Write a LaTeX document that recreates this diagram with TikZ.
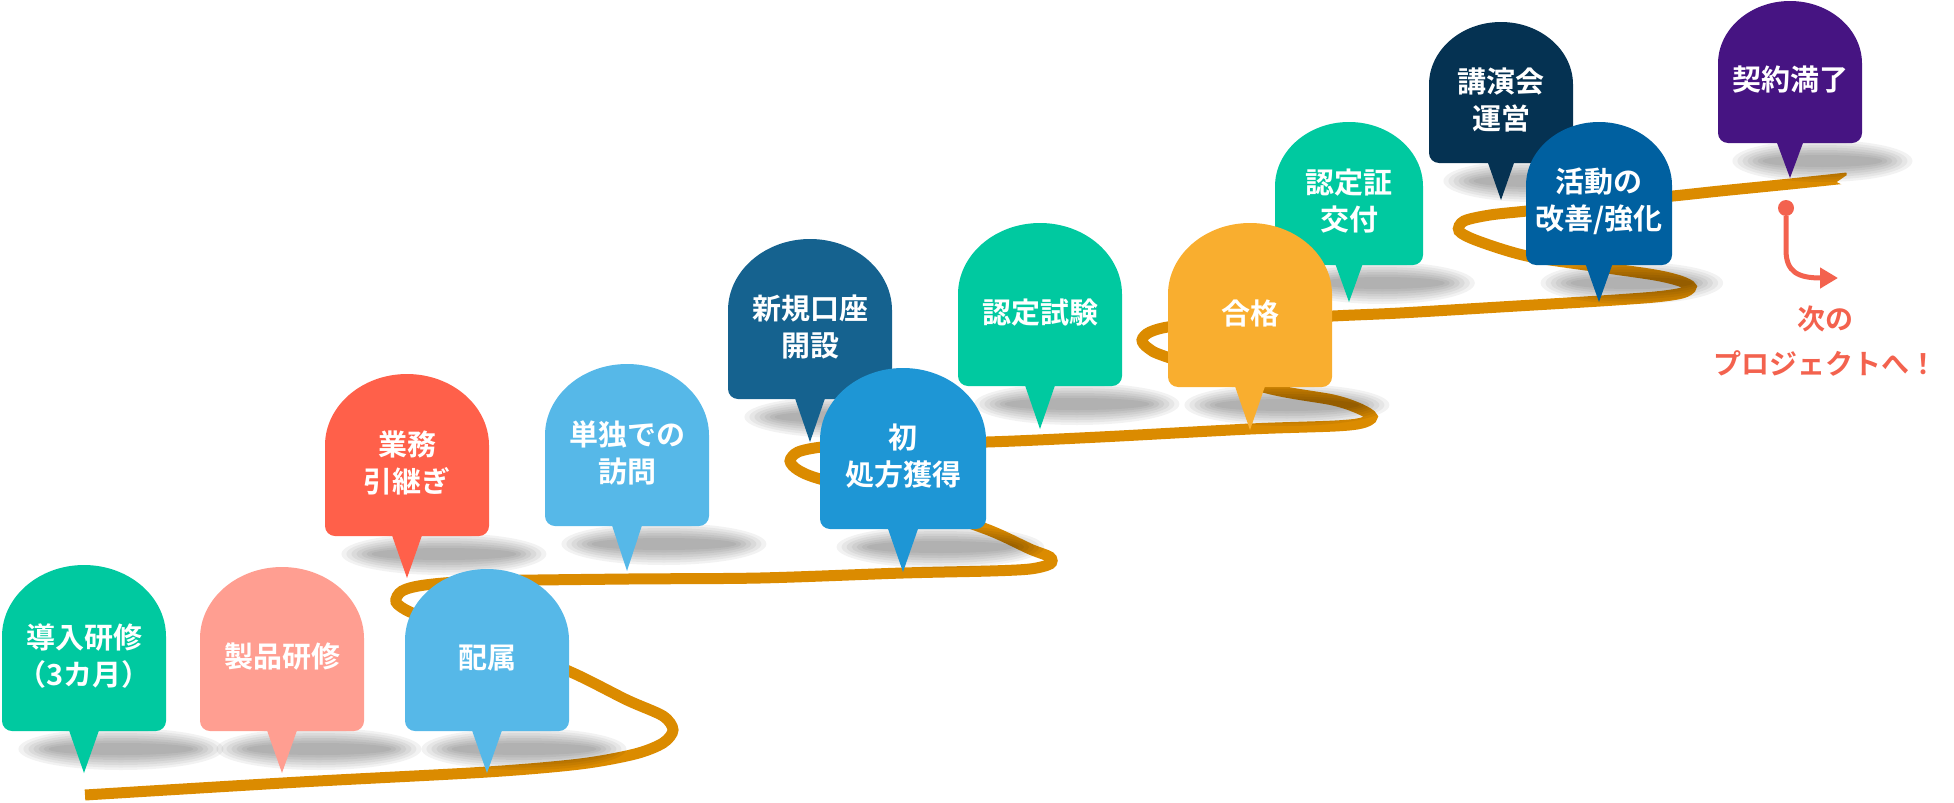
\documentclass[tikz,border=0pt]{standalone}
\usepackage{fontspec}
\setmainfont{Noto Sans CJK JP}[BoldFont={Noto Sans CJK JP Bold}]
\usetikzlibrary{arrows.meta}

\definecolor{roadorange}{HTML}{DB8B00}
\definecolor{cteal}{HTML}{00C9A0}
\definecolor{csalmon}{HTML}{FF9E91}
\definecolor{clight}{HTML}{56B8E8}
\definecolor{cred}{HTML}{FF604A}
\definecolor{cdark}{HTML}{15628F}
\definecolor{cmid}{HTML}{1E96D5}
\definecolor{corange}{HTML}{F9AE2F}
\definecolor{cnavy}{HTML}{053252}
\definecolor{cblue}{HTML}{0060A0}
\definecolor{cpurple}{HTML}{461482}
\definecolor{nextred}{HTML}{F3624E}

\begin{document}
\begin{tikzpicture}[x=1pt, y=-1pt,
		road/.style={line width=11pt, draw=roadorange},
		pintext/.style={text=white, font=\bfseries\fontsize{29}{37}\selectfont, align=center, inner sep=0pt},
		nexttext/.style={text=nextred, font=\bfseries\fontsize{28}{45}\selectfont, align=center, inner sep=0pt}]
		\useasboundingbox (0,0) rectangle (1954,803);

		\draw [road] plot [smooth, tension=0.5] coordinates {
			(85,795) (300,782) (487,772) (580,764) (635,754) (663,743) (673,730) (663,716) (627,700)
			(573,673) (500,643) (440,622) (410,612) (396,602) (402,591) (425,585) (480,581)
			(628,579) (760,578) (903,573) (990,571) (1030,569) (1050,564) (1050,557) (1030,549)
			(986,529) (900,500) (820,479) (798,470) (790,461) (798,452) (822,447) (870,444)
			(987,442) (1100,437) (1250,429) (1335,426) (1362,423) (1372,417) (1360,409) (1333,400)
			(1267,388) (1167,357) (1148,348) (1142,340) (1150,332) (1175,326) (1250,321)
			(1333,316) (1400,313) (1500,307) (1600,301) (1655,297) (1682,293) (1691,287)
			(1680,281) (1655,275) (1600,267) (1527,256) (1478,241) (1459,231) (1464,221)
			(1490,215) (1527,211) (1600,203) (1673,196) (1720,191) (1790,184) (1847,178)};
		\fill [white] (1850,173) -- (1837,182) -- (1850,189) -- cycle;

		\foreach \xc/\hw/\yt/\yb/\yp/\col/\nm/\txt in {
			1790/72/1/143/178/cpurple/manryou/{契約満了},
			1501/72/22/163/200/cnavy/kouenkai/{講演会\\運営},
			1349/74/122/265/302/cteal/ninteisho/{認定証\\交付},
			1599/73/122/265/302/cblue/katsudou/{活動の\\改善/強化},
			810/82/239/399/442/cdark/kouza/{新規口座\\開設},
			1040/82/223/386/429/cteal/shiken/{認定試験},
			1250/82/223/387/430/corange/goukaku/{合格},
			407/82/374/536/578/cred/hikitsugi/{業務\\引継ぎ},
			627/82/364/526/571/clight/tandoku/{単独での\\訪問},
			903/83/368/529/572/cmid/shohou/{初\\処方獲得},
			84/82/565/731/773/cteal/dounyu/{導入研修\\（3カ月）},
			282/82/567/731/773/csalmon/seihin/{製品研修},
			487/82/569/731/773/clight/haizoku/{配属}}
		{
			\foreach \k in {0,...,6}
				\fill [black, opacity=0.05] ({\xc+0.45*\hw},{\yb+18}) ellipse [x radius={1.25*\hw-5*\k}, y radius={21-2.5*\k}];
			\fill [\col] ({\xc-\hw},{\yt+0.87*\hw}) .. controls ({\xc-\hw},{\yt+0.39*\hw}) and ({\xc-0.55*\hw},\yt) .. (\xc,\yt)
				.. controls ({\xc+0.55*\hw},\yt) and ({\xc+\hw},{\yt+0.39*\hw}) .. ({\xc+\hw},{\yt+0.87*\hw})
				-- ({\xc+\hw},{\yb-10}) arc [start angle=0, end angle=90, radius=10]
				-- ({\xc+0.18*\hw},\yb) -- (\xc,\yp) -- ({\xc-0.18*\hw},\yb)
				-- ({\xc-\hw+10},\yb) arc [start angle=90, end angle=180, radius=10] -- cycle;
			\node [pintext] (\nm) at (\xc,{(\yt+\yb)/2+8}) {\txt};
		}

		\node [circle, fill=nextred, minimum size=16pt, inner sep=0pt] (dot) at (1786,208) {};
		\coordinate (tip) at (1838,278);
		\draw [nextred, line width=5pt, -{Triangle[length=18pt, width=20pt]}] (dot) -- (1786,250) .. controls (1786,272) and (1798,278) .. (tip);
		\node [nexttext] (next) at (1825,341) {次の\\プロジェクトへ！};
	\end{tikzpicture}
\end{document}
